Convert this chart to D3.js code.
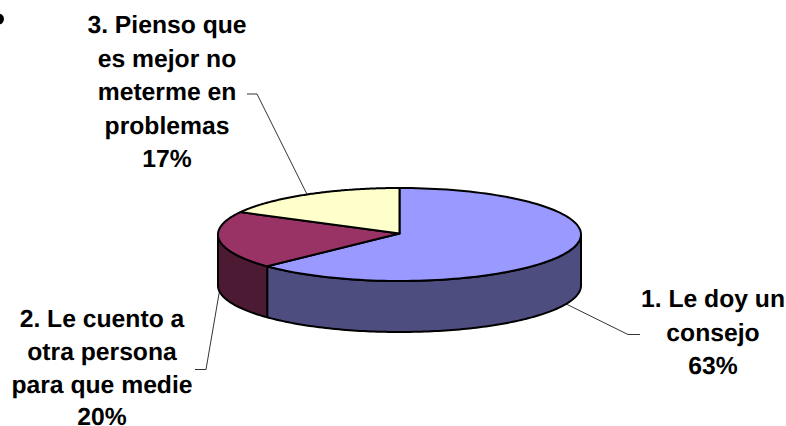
<!DOCTYPE html>
<html><head><meta charset="utf-8">
<script src="https://cdn.jsdelivr.net/npm/d3@7/dist/d3.min.js"></script>
<style>html,body{margin:0;padding:0;background:#fff;overflow:hidden}svg{display:block}
text{font-family:"Liberation Sans",Arial,sans-serif;font-weight:bold;font-size:24.7px;fill:#000;text-anchor:middle;text-rendering:geometricPrecision}</style>
</head><body><svg id="c" width="786" height="426"></svg>
<script>
const categories = ["1. Le doy un consejo", "2. Le cuento a otra persona para que medie", "3. Pienso que es mejor no meterme en problemas"];
const values = [63, 20, 17];
const percentLabels = ["63%", "20%", "17%"];
const labelLines = [["1. Le doy un", "consejo"], ["2. Le cuento a", "otra persona", "para que medie"], ["3. Pienso que", "es mejor no", "meterme en", "problemas"]];
const topColors = ["#9999FF", "#993366", "#FFFFCC"];
const sideColors = ["#4D4D80", "#4D1A33", "#80806A"];

const W = 786, H = 426, cx = 399.5, cy = 234.5, rx = 181.5, ry = 46.5, depth = 51;
const svg = d3.select("#c");
const arcs = d3.pie().sort(null).value(d => d)(values);
const px = d3.scaleLinear().domain([-1, 1]).range([cx - rx, cx + rx]);
const py = d3.scaleLinear().domain([-1, 1]).range([cy - ry, cy + ry]);
const pt = (a, dz = 0) => [px(Math.sin(a)), py(-Math.cos(a)) + dz];
const line = d3.line();
const samples = (a0, a1, dz) => d3.range(0, 121).map(i => pt(a0 + (a1 - a0) * i / 120, dz));

// side walls (only the front half of the rim is visible)
arcs.forEach((d, i) => {
  const a0 = Math.max(d.startAngle, Math.PI / 2), a1 = Math.min(d.endAngle, Math.PI * 1.5);
  if (a1 <= a0) return;
  const path = [...samples(a0, a1, 0), ...samples(a1, a0, depth)];
  svg.append("path").attr("d", line(path) + "Z").attr("fill", sideColors[i])
    .attr("stroke", "#000").attr("stroke-width", 2).attr("stroke-linejoin", "round");
});
// top faces
arcs.forEach((d, i) => {
  const path = [[cx, cy - 1], ...samples(d.startAngle, d.endAngle, 0)];
  svg.append("path").attr("d", line(path) + "Z").attr("fill", topColors[i])
    .attr("stroke", "#000").attr("stroke-width", 2).attr("stroke-linejoin", "round");
});

// leader lines and labels
const labelPos = [
  {x: 713, y: 307, step: 33.7, elbow: [[628, 334.5], [640, 334.5]]},
  {x: 102, y: 327, step: 32.8, elbow: [[206, 369.5], [195, 369.5]]},
  {x: 167, y: 33, step: 33.6, elbow: [[257, 94], [247, 94]]}
];
arcs.forEach((d, i) => {
  const mid = (d.startAngle + d.endAngle) / 2;
  const front = Math.cos(mid) < 0;
  const start = pt(mid, front ? depth : 0);
  svg.append("path").attr("d", line([start, ...labelPos[i].elbow]))
    .attr("fill", "none").attr("stroke", "#000").attr("stroke-width", 0.8);
  [...labelLines[i], percentLabels[i]].forEach((t, k) => {
    svg.append("text").attr("x", labelPos[i].x).attr("y", labelPos[i].y + k * labelPos[i].step).text(t);
  });
});
// stray bullet at the top-left edge
svg.append("circle").attr("cx", -1.5).attr("cy", 19).attr("r", 5.5).attr("fill", "#000");
</script></body></html>
